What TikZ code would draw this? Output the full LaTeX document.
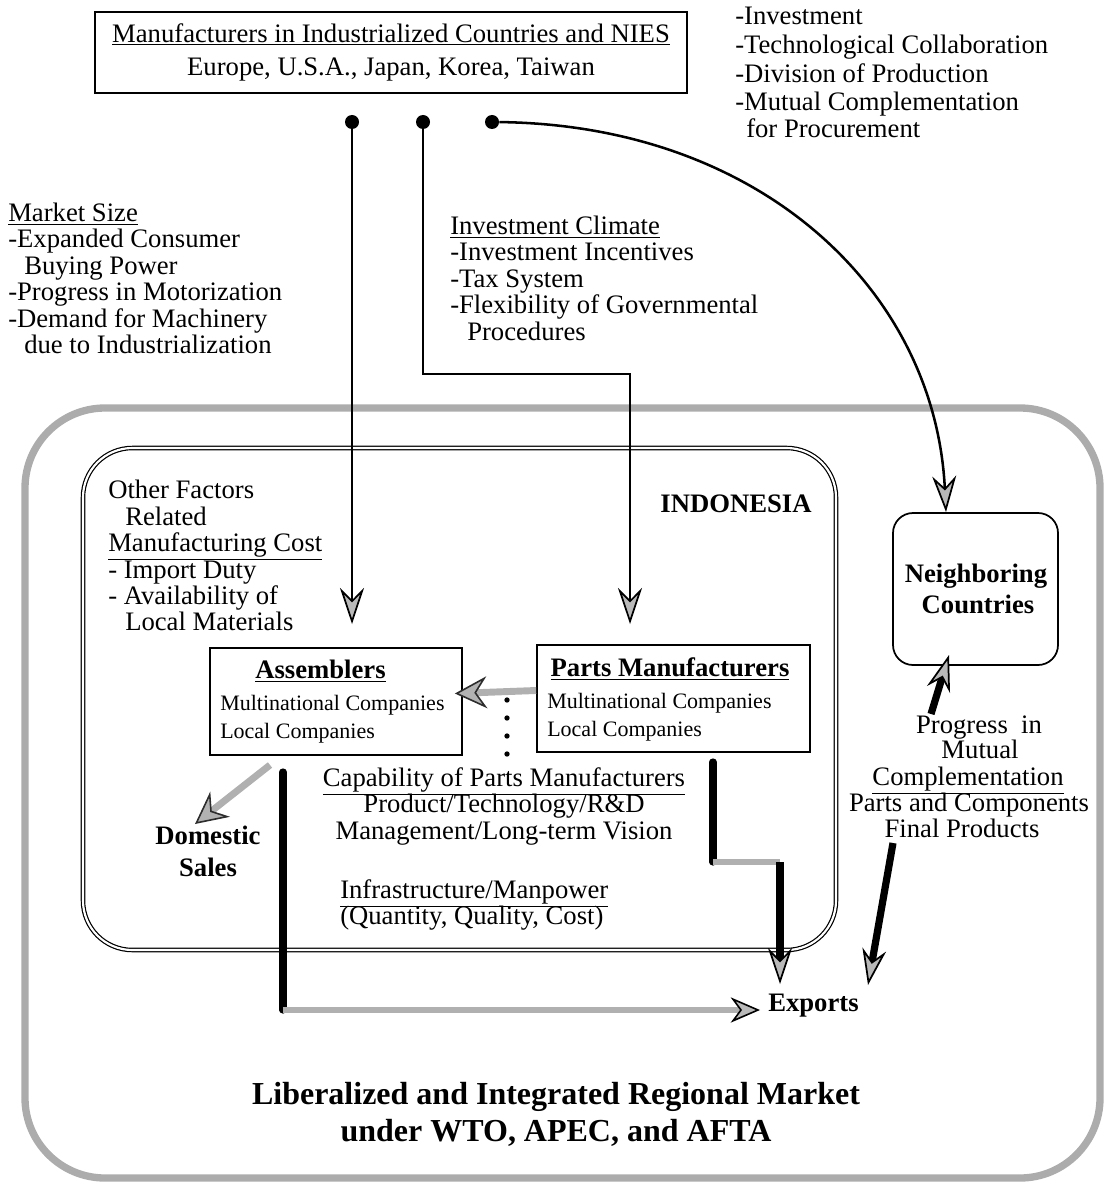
\documentclass[tikz,border=0pt]{standalone}
\usepackage{fontspec}
\setmainfont{Liberation Serif}
\usetikzlibrary{arrows.meta}
\def\u{0.75pt}
\begin{document}
\begin{tikzpicture}[x=0.75pt,y=-0.75pt,
  txt/.style={font=\fontsize{20}{20}\selectfont, inner sep=0pt, text height=14pt, text depth=4pt, anchor=west},
  ctxt/.style={txt, anchor=center},
  btxt/.style={txt, font=\fontsize{20}{20}\selectfont\bfseries, anchor=center},
  stxt/.style={txt, font=\fontsize{16.5}{16.5}\selectfont},
  box/.style={draw, line width=1.3pt, inner sep=0pt},
  dot/.style={circle, fill=black, inner sep=0pt, minimum size=14*\u},
  thinline/.style={line width=1.9pt},
  thickline/.style={line width=5.4pt, line cap=round},
  grayline/.style={line width=5.2pt, draw=gray!62},
  tipA/.style={-{Stealth[length=27pt,width=18pt,inset=9pt,fill=gray!55,color=black,line width=1.3pt]}},
  tipB/.style={-{Stealth[length=22pt,width=19pt,inset=7pt,fill=gray!55,color=black,line width=1.2pt]}},
  tipC/.style={-{Stealth[length=24pt,width=24pt,inset=8pt,fill=gray!60,color=gray!35!black,line width=1.2pt]}},
]
\useasboundingbox (0,0) rectangle (1110,1191);

% containers
\node[draw=gray!65, line width=5.5pt, rounded corners=60pt, minimum width=1075*\u, minimum height=770*\u] (outer) at (562.5,793) {};
\node[draw, double, double distance=1.6pt, line width=0.9pt, rounded corners=37pt, minimum width=753*\u, minimum height=502*\u] (indo) at (459.5,699) {};

% top box
\node[box, minimum width=592*\u, minimum height=81*\u, align=center, font=\fontsize{20}{24.75}\selectfont] (top) at (391,52.5)
  {\underline{Manufacturers in Industrialized Countries and NIES}\\Europe, U.S.A., Japan, Korea, Taiwan};

% top right list
\node[txt] (r1) at (735,18) {-Investment};
\node[txt] (r2) at (735,47) {-Technological Collaboration};
\node[txt] (r3) at (735,76) {-Division of Production};
\node[txt] (r4) at (735,104) {-Mutual Complementation};
\node[txt] (r5) at (746,131) {for Procurement};

% market size
\node[txt] (m1) at (8,215) {\underline{Market Size}};
\node[txt] (m2) at (8,241) {-Expanded Consumer};
\node[txt] (m3) at (24,268) {Buying Power};
\node[txt] (m4) at (8,294) {-Progress in Motorization};
\node[txt] (m5) at (8,321) {-Demand for Machinery};
\node[txt] (m6) at (24,347) {due to Industrialization};

% investment climate
\node[txt] (i1) at (450,228) {\underline{Investment Climate}};
\node[txt] (i2) at (450,254) {-Investment Incentives};
\node[txt] (i3) at (450,281) {-Tax System};
\node[txt] (i4) at (450,307) {-Flexibility of Governmental};
\node[txt] (i5) at (467,334) {Procedures};

% other factors
\node[txt] (o1) at (108,492) {Other Factors};
\node[txt] (o2) at (125,519) {Related};
\node[txt] (o3) at (108,545) {\underline{Manufacturing Cost}};
\node[txt] (o4) at (108,572) {- Import Duty};
\node[txt] (o5) at (108,598) {- Availability of};
\node[txt] (o6) at (125,624) {Local Materials};

\node[btxt] (indon) at (736,506) {INDONESIA};

% assemblers
\node[box, minimum width=252*\u, minimum height=107*\u] (assem) at (336,701.5) {};
\node[btxt] (as1) at (320.5,672) {\underline{Assemblers}};
\node[stxt] (as2) at (220,704) {Multinational Companies};
\node[stxt] (as3) at (220,732) {Local Companies};

% parts manufacturers
\node[box, minimum width=273*\u, minimum height=107*\u] (parts) at (673.5,698.5) {};
\node[btxt] (pm1) at (670,670) {\underline{Parts Manufacturers}};
\node[stxt] (pm2) at (547,702) {Multinational Companies};
\node[stxt] (pm3) at (547,730) {Local Companies};

% capability
\node[ctxt] (c1) at (504,780) {\underline{Capability of Parts Manufacturers}};
\node[ctxt] (c2) at (504,806) {Product/Technology/R\&D};
\node[ctxt] (c3) at (504,833) {Management/Long-term Vision};

\node[txt] (f1) at (340,892) {\underline{Infrastructure/Manpower}};
\node[txt] (f2) at (340,918) {(Quantity, Quality, Cost)};

\node[btxt] (ds1) at (208,838) {Domestic};
\node[btxt] (ds2) at (208,870) {Sales};

\node[btxt, anchor=west] (exports) at (768,1005) {Exports};

% neighboring
\node[draw, line width=1.3pt, rounded corners=15pt, minimum width=165*\u, minimum height=152*\u] (neigh) at (975.5,589) {};
\node[btxt] (n1) at (976,576) {Neighboring};
\node[btxt] (n2) at (978,607) {Countries};

\node[ctxt] (p1) at (979,727) {Progress\ \ in};
\node[ctxt] (p2) at (980,752) {Mutual};
\node[ctxt] (p3) at (968,779) {\underline{Complementation}};
\node[ctxt] (p4) at (969,805) {Parts and Components};
\node[ctxt] (p5) at (962,831) {Final Products};

% bottom
\node[txt, anchor=center, font=\fontsize{24}{24}\selectfont\bfseries] (b1) at (556,1098) {Liberalized and Integrated Regional Market};
\node[txt, anchor=center, font=\fontsize{24}{24}\selectfont\bfseries] (b2) at (556,1135) {under WTO, APEC, and AFTA};

% dots and top connectors
\node[dot] (d1) at (352,122) {};
\node[dot] (d2) at (423,122) {};
\node[dot] (d3) at (492,122) {};
\coordinate (t1) at (352,624);
\coordinate (bend) at (630,374);
\coordinate (t2) at (630,624);
\coordinate (t3) at (946,512);
\draw[thinline, tipA] (d1) -- (t1);
\draw[thinline, tipA] (d2) |- (bend) -- (t2);
\draw[thinline, tipA] (d3) .. controls (760,125) and (935,290) .. (t3);

% parts -> assemblers
\draw[grayline, tipC] ([yshift=6pt]parts.west) -- ([yshift=6pt,xshift=-6pt]assem.east);
\coordinate (dt0) at (507,700);
\coordinate (dt1) at (507,772);
\draw[line width=4pt, line cap=round, dash pattern=on 0pt off 13.5pt] (dt0) -- (dt1);

% domestic
\coordinate (dom0) at (270,765);
\coordinate (dom1) at (195,824);
\draw[grayline, tipC] (dom0) -- (dom1);

% assemblers -> exports
\coordinate (ax0) at (283,772);
\coordinate (ax1) at (283,1010);
\draw[thickline] (ax0) -- (ax1);
\draw[grayline, tipB] (ax1) -- ([xshift=-6pt]ax1 -| exports.west);

% parts -> exports
\coordinate (px0) at (713,762);
\coordinate (px1) at (713,862);
\coordinate (px2) at (780,862);
\coordinate (px3) at (780,984);
\draw[thickline] (px0) -- (px1);
\draw[grayline] (px1) -- (px2);
\draw[thickline, line cap=butt, tipA] (px2) -- (px3);

% mutual complementation arrows
\coordinate (u0) at (931,714);
\coordinate (u1) at (949,655);
\draw[thickline, line cap=butt, tipA] (u0) -- (u1);
\coordinate (w0) at (893,843);
\coordinate (w1) at (868,985);
\draw[thickline, line cap=butt, tipA] (w0) -- (w1);
\end{tikzpicture}
\end{document}
